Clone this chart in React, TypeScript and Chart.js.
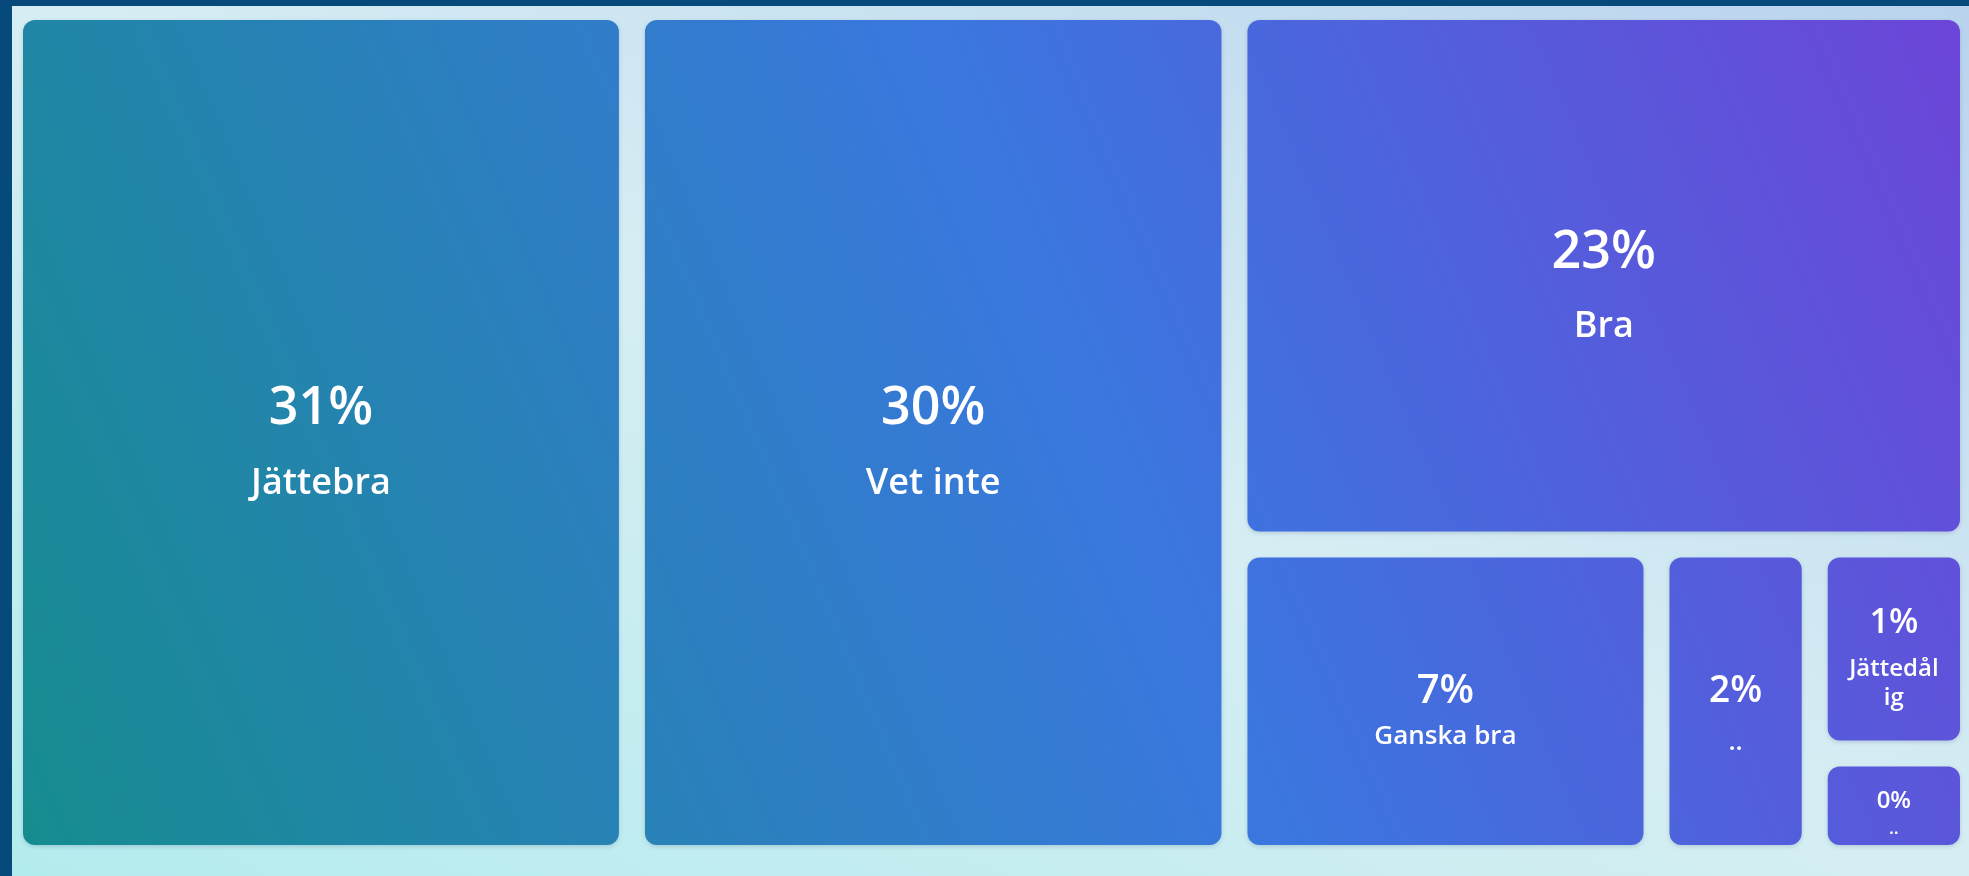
import { useEffect, useRef } from "react";
import { Chart, registerables } from "chart.js";

Chart.register(...registerables);

// ---- data ----
const categories = ["Jättebra", "Vet inte", "Bra", "Ganska bra", "..", "Jättedålig", ".."];
// displayed percentages
const percentages = [31, 30, 23, 7, 2, 1, 0];
// cell sizes (estimated response counts)
const areaWeights = [32, 31, 24, 8, 3, 2, 1];

type Rect = { x: number; y: number; w: number; h: number };

function worst(row: number[], s: number): number {
  const sum = row.reduce((a, b) => a + b, 0);
  const mx = Math.max(...row);
  const mn = Math.min(...row);
  return Math.max((s * s * mx) / (sum * sum), (sum * sum) / (s * s * mn));
}

// squarified treemap, in units with the same aspect ratio as the chart area
function squarify(values: number[], W: number, H: number): Rect[] {
  const total = values.reduce((a, b) => a + b, 0);
  const k = (W * H) / total;
  const areas = values.map((v) => v * k);
  const rects: Rect[] = [];
  let rx = 0, ry = 0, rw = W, rh = H;
  let i = 0;
  while (i < areas.length) {
    const short = Math.min(rw, rh);
    let row = [areas[i]];
    let best = worst(row, short);
    let j = i + 1;
    while (j < areas.length) {
      const cand = [...row, areas[j]];
      const wv = worst(cand, short);
      if (wv > best) break;
      row = cand;
      best = wv;
      j++;
    }
    const rs = row.reduce((a, b) => a + b, 0);
    if (rw >= rh) {
      const cw = rs / rh;
      let cy = ry;
      for (const a of row) {
        rects.push({ x: rx, y: cy, w: cw, h: a / cw });
        cy += a / cw;
      }
      rx += cw;
      rw -= cw;
    } else {
      const ch = rs / rw;
      let cx = rx;
      for (const a of row) {
        rects.push({ x: cx, y: ry, w: a / ch, h: ch });
        cx += a / ch;
      }
      ry += ch;
      rh -= ch;
    }
    i = j;
  }
  return rects;
}

// text style tiers by cell size: [pctSize, labelSize, pctOffset, labelOffset, lineStep]
function textStyle(w: number, h: number): number[] {
  if (w >= 400 && h >= 400) return [52, 36, -23, 51, 48];
  if (w >= 300 && h >= 250) return [40, 26, -10, 35, 34];
  if (h >= 250) return [37, 26, -10, 41, 34];
  if (h >= 150) return [34, 24, -26, 20, 29];
  return [24, 18, -5, 23, 22];
}

const FONT = "'Open Sans', 'Noto Sans', sans-serif";

function wrap(ctx: CanvasRenderingContext2D, text: string, maxW: number): string[] {
  if (ctx.measureText(text).width <= maxW) return [text];
  const lines: string[] = [];
  let cur = "";
  for (const ch of text) {
    const t = cur + ch;
    if (ctx.measureText(t).width > maxW && cur.length > 0) {
      lines.push(cur);
      cur = ch.trim() ? ch : "";
    } else cur = t;
  }
  if (cur) lines.push(cur);
  return lines;
}

const treemapPlugin = {
  id: "treemapCells",
  afterDatasetsDraw(chart: any) {
    const { ctx, chartArea, scales } = chart;
    const xs = scales.x;
    const ys = scales.y;
    const W = chartArea.width;
    const H = chartArea.height;
    const rects = squarify(areaWeights, W, H);
    const half = 13;
    const left = chartArea.left + half, right = chartArea.right - half;
    const top = chartArea.top + half, bottom = chartArea.bottom - half;
    const grad = ctx.createLinearGradient(left, bottom, right, top);
    grad.addColorStop(0, "#168c8f");
    grad.addColorStop(0.55, "#3a77df");
    grad.addColorStop(1, "#6c45d8");

    rects.forEach((r, idx) => {
      const x0 = xs.getPixelForValue((r.x / W) * 100) + half;
      const x1 = xs.getPixelForValue(((r.x + r.w) / W) * 100) - half;
      const y0 = ys.getPixelForValue((r.y / H) * 100) + half;
      const y1 = ys.getPixelForValue(((r.y + r.h) / H) * 100) - half;
      const w = x1 - x0, h = y1 - y0;
      ctx.save();
      ctx.shadowColor = "rgba(20,40,90,0.18)";
      ctx.shadowBlur = 4;
      ctx.shadowOffsetY = 1.5;
      ctx.beginPath();
      ctx.roundRect(x0, y0, w, h, 12);
      ctx.fillStyle = grad;
      ctx.fill();
      ctx.restore();

      // text
      ctx.save();
      ctx.beginPath();
      ctx.roundRect(x0, y0, w, h, 12);
      ctx.clip();
      const [P, L, pOff, lOff, step] = textStyle(w, h);
      const cx = (x0 + x1) / 2;
      const cy = (y0 + y1) / 2;
      ctx.fillStyle = "#ffffff";
      ctx.textAlign = "center";
      ctx.textBaseline = "middle";
      ctx.font = `600 ${P}px ${FONT}`;
      ctx.fillText(`${percentages[idx]}%`, cx, cy + pOff);
      ctx.font = `600 ${L}px ${FONT}`;
      const lines = wrap(ctx, categories[idx], w - 38);
      lines.forEach((ln, li) => {
        ctx.fillText(ln, cx, cy + lOff + li * step);
      });
      ctx.restore();
    });
  },
};

export default function App() {
  const ref = useRef<HTMLCanvasElement | null>(null);
  useEffect(() => {
    if (!ref.current) return;
    const chart = new Chart(ref.current, {
      type: "scatter",
      data: {
        datasets: [
          {
            label: "Svar",
            data: categories.map((_, i) => ({ x: i, y: areaWeights[i] })),
            pointRadius: 0,
            pointHoverRadius: 0,
          },
        ],
      },
      options: {
        animation: false,
        responsive: false,
        devicePixelRatio: 1,
        events: [],
        layout: { padding: { left: 10, top: 7, right: 7, bottom: 18 } },
        scales: {
          x: { type: "linear", min: 0, max: 100, display: false },
          y: { type: "linear", min: 0, max: 100, reverse: true, display: false },
        },
        plugins: { legend: { display: false }, tooltip: { enabled: false } },
      },
      plugins: [treemapPlugin],
    });
    return () => chart.destroy();
  }, []);

  return (
    <div
      style={{
        position: "fixed",
        left: 0,
        top: 0,
        width: 1969,
        height: 876,
        overflow: "hidden",
        background: "linear-gradient(to top right, #b3ecee 0%, #d6eef3 50%, #bad3ee 100%)",
      }}
    >
      <canvas ref={ref} width={1980} height={876} style={{ position: "absolute", left: 0, top: 0 }} />
      <div style={{ position: "absolute", left: 0, top: 0, width: 12, height: 876, background: "#064a7c" }} />
      <div style={{ position: "absolute", left: 0, top: 0, width: 1969, height: 6, background: "#08497c" }} />
    </div>
  );
}
